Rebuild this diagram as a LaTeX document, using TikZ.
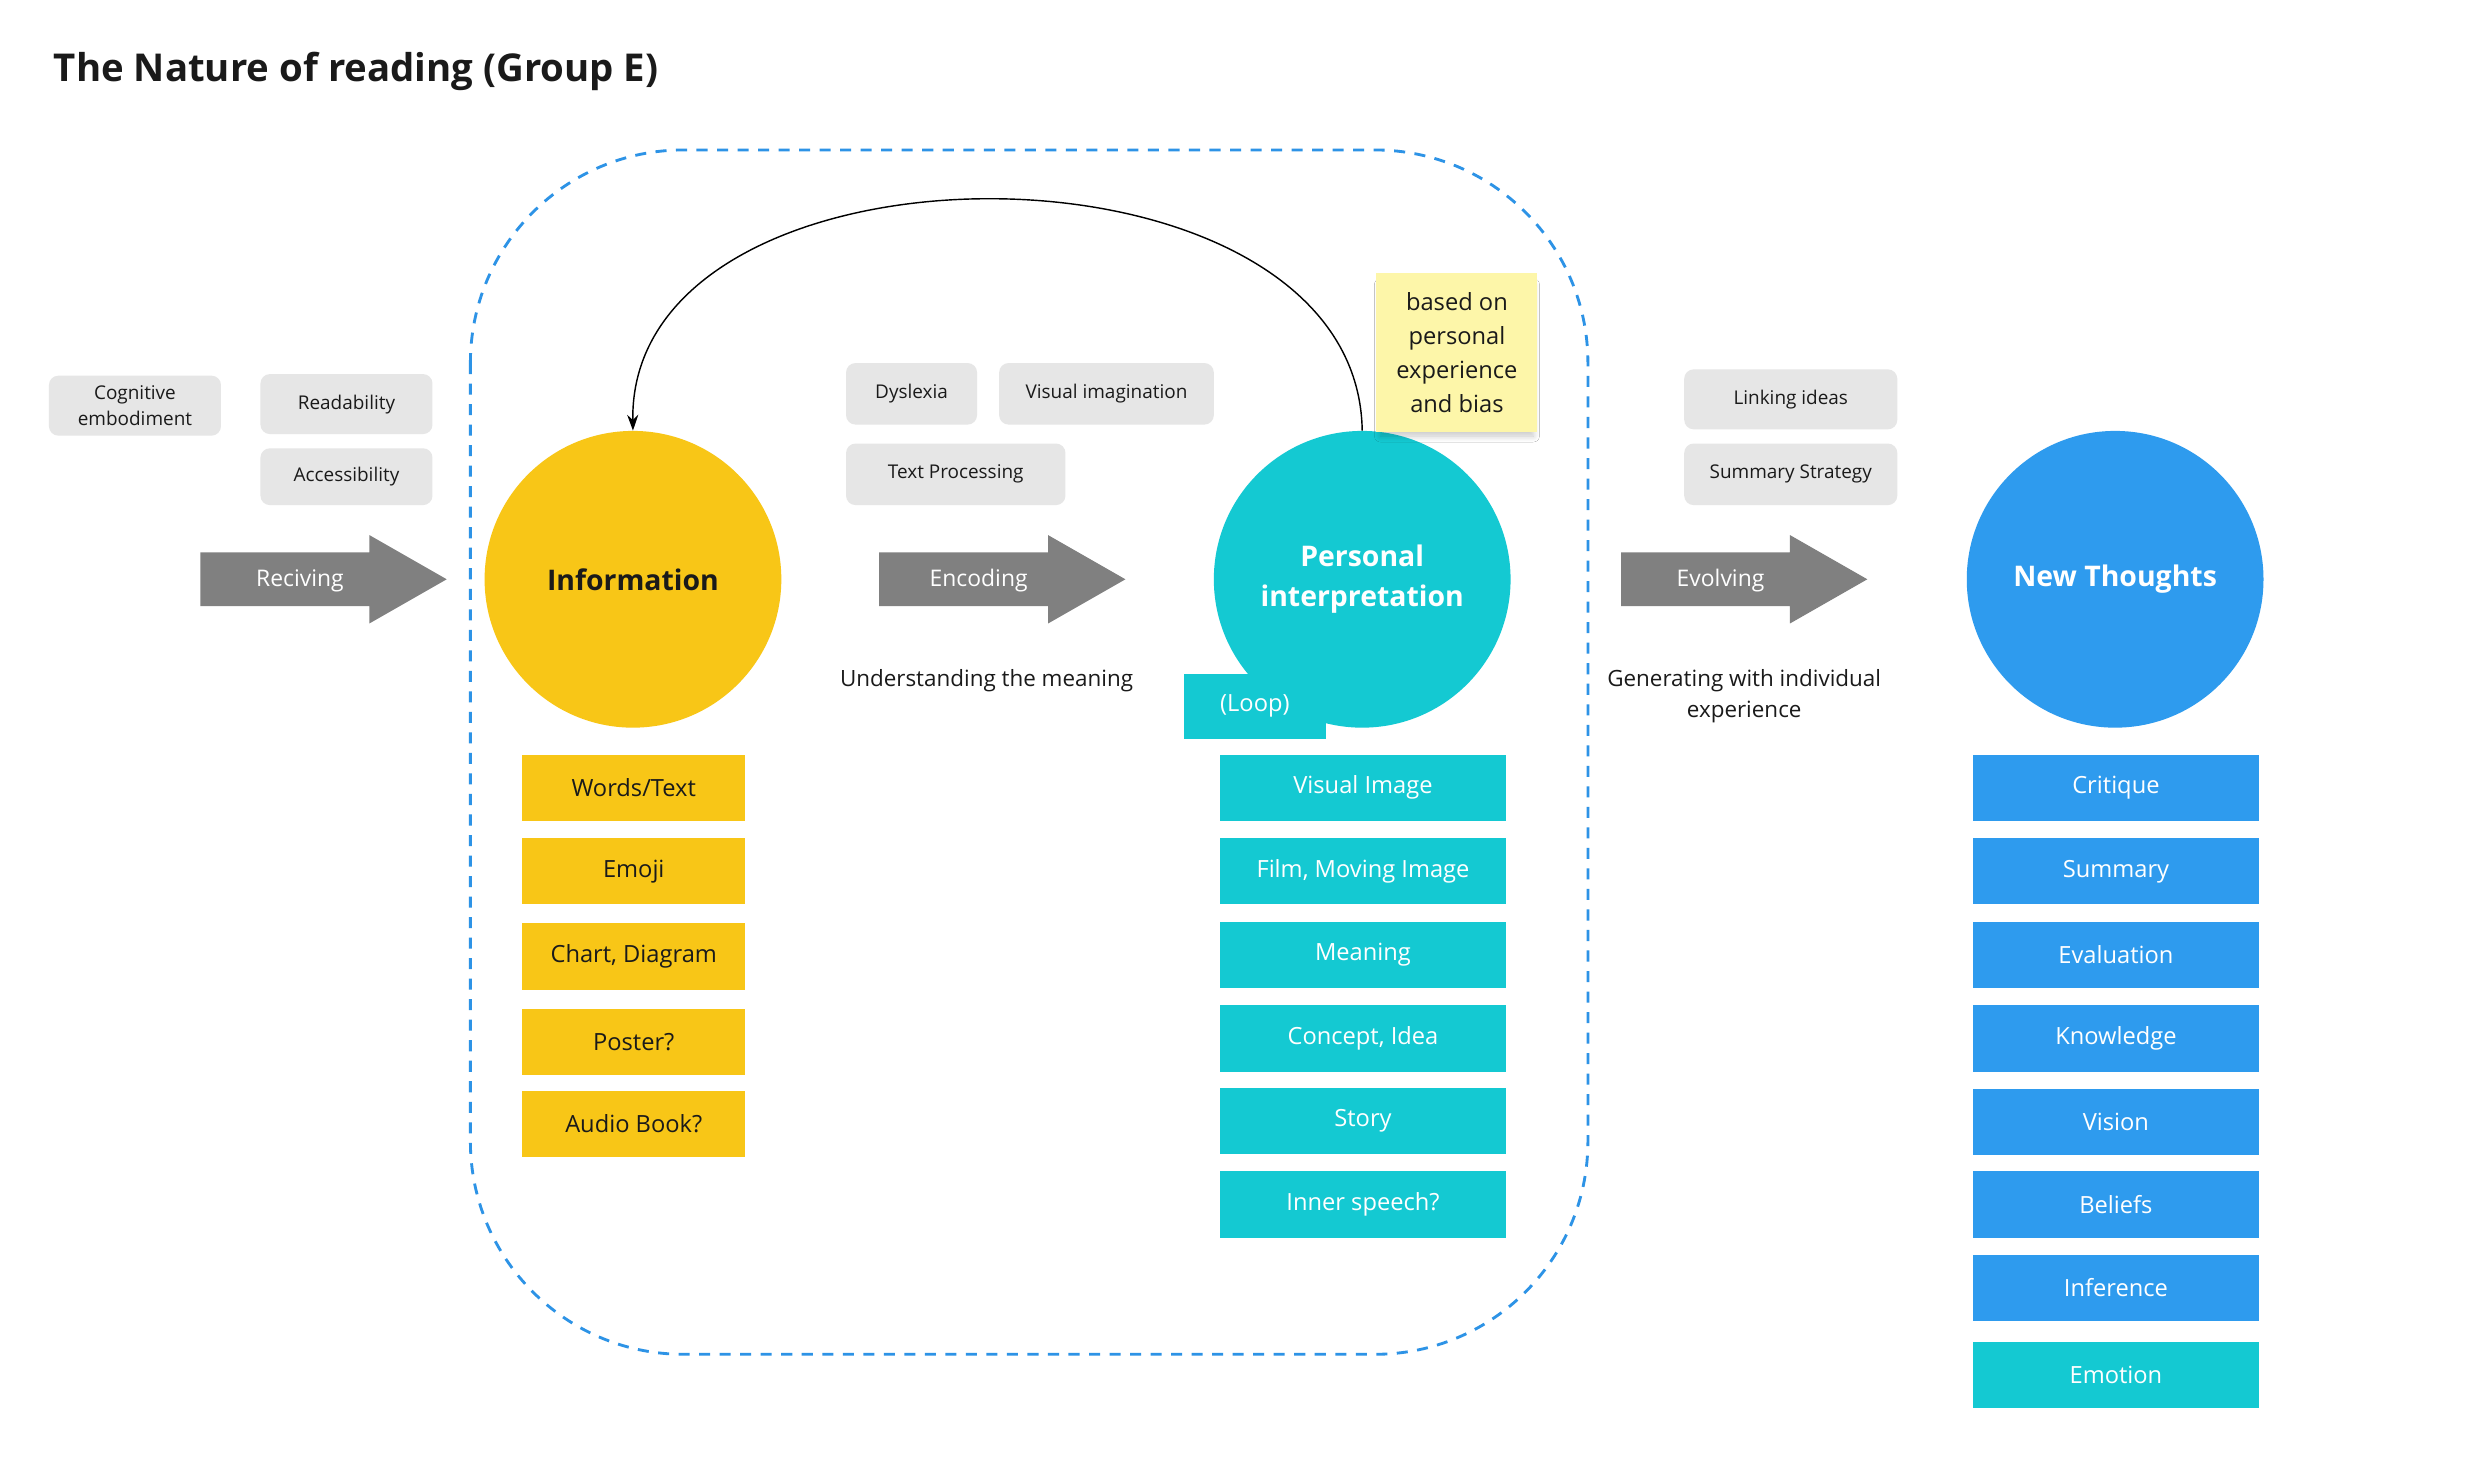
\documentclass[tikz,border=0pt]{standalone}
\usepackage{fontspec}
\setmainfont{Open Sans}
\usetikzlibrary{shadows.blur,arrows.meta}
\definecolor{cyel}{HTML}{F8C617}
\definecolor{cteal}{HTML}{14C9D2}
\definecolor{cblue}{HTML}{2E9BEE}
\definecolor{cgrey}{HTML}{808080}
\definecolor{cchip}{HTML}{E6E6E6}
\definecolor{csticky}{HTML}{FDF6A9}
\definecolor{cdash}{HTML}{2D93E6}
\definecolor{ctext}{HTML}{1A1A1A}
\begin{document}
\begin{tikzpicture}[x=1pt,y=-1pt,
  chip/.style={fill=cchip, rounded corners=6pt, minimum height=38pt, inner sep=0pt, align=center,
    font=\fontsize{12}{16}\selectfont, text=ctext},
  bigarrow/.style={fill=cgrey},
  arrowlabel/.style={text=white, font=\fontsize{14.5}{18}\selectfont},
  bigcircle/.style={circle, minimum size=188pt, inner sep=0pt, align=center,
    font=\fontsize{18}{25}\selectfont\bfseries},
  listbox/.style={minimum height=42pt, inner sep=0pt, font=\fontsize{15}{18}\selectfont},
  ylist/.style={listbox, fill=cyel, minimum width=141pt, text=ctext},
  tlist/.style={listbox, fill=cteal, minimum width=181pt, text=white},
  blist/.style={listbox, fill=cblue, minimum width=181pt, text=white},
  caption/.style={align=center, font=\fontsize{14.2}{20}\selectfont, text=ctext},
]
\fill[white] (0,0) rectangle (1568,936);
\useasboundingbox (0,0) rectangle (1568,936);

% title
\node[anchor=west, inner sep=0pt, font=\fontsize{24.3}{29}\selectfont\bfseries, text=ctext] (title) at (34,45.5) {The Nature of reading (Group E)};

% dashed group
\draw[cdash, line width=1.8pt, dash pattern=on 7pt off 6pt, rounded corners=135pt] (298,95) rectangle (1006,858);

% grey chips
\node[chip, minimum width=109pt] (cog) at (85.5,257) {Cognitive\\embodiment};
\node[chip, minimum width=109pt] (read) at (219.5,256) {Readability};
\node[chip, minimum width=109pt, minimum height=36pt] (acc) at (219.5,302) {Accessibility};
\node[chip, minimum width=83pt, minimum height=39pt] (dys) at (577.5,249.5) {Dyslexia};
\node[chip, minimum width=136pt, minimum height=39pt] (vis) at (701,249.5) {Visual imagination};
\node[chip, minimum width=139pt, minimum height=39pt] (tp) at (605.5,300.5) {Text Processing};
\node[chip, minimum width=135pt] (link) at (1134.5,253) {Linking ideas};
\node[chip, minimum width=135pt, minimum height=39pt] (sum) at (1134.5,300.5) {Summary Strategy};

% big arrows
\foreach \x in {127,557,1027}{
  \fill[bigarrow] (\x,350) -- (\x+107,350) -- (\x+107,339) -- (\x+156,367) -- (\x+107,395) -- (\x+107,384) -- (\x,384) -- cycle;
}
\node[arrowlabel] (reciving) at (190,368) {Reciving};
\node[arrowlabel] (encoding) at (620,368) {Encoding};
\node[arrowlabel] (evolving) at (1090,368) {Evolving};

% circles
\node[bigcircle, fill=cyel, text=ctext] (info) at (401,367) {Information};
\node[bigcircle, fill=cteal, text=white] (pi) at (863,367) {Personal\\interpretation};
\node[bigcircle, fill=cblue, text=white] (nt) at (1340,367) {\raisebox{-1.5pt}{New Thoughts}};

% loop tag
\node[fill=cteal, minimum width=90pt, minimum height=41pt, inner sep=0pt, text=white,
  font=\fontsize{15}{18}\selectfont] (loop) at (795,447.5) {(Loop)};

% loop connector
\draw[-{Stealth[length=10pt,width=7pt]}, line width=0.9pt, black] (pi.north) .. controls (860,78) and (398,78) .. (info.north);

% sticky note
\node[fill=csticky, minimum width=102pt, minimum height=101pt, inner sep=0pt, align=center,
  font=\fontsize{15}{21.5}\selectfont, text=ctext,
  blur shadow={shadow xshift=0pt, shadow yshift=-5pt, shadow scale=0.95, shadow blur steps=8, shadow blur radius=4pt, shadow opacity=22}] (sticky) at (923,223.5)
  {based on\\personal\\experience\\and bias};

% captions
\node[caption] (und) at (625,431) {Understanding the meaning};
\node[caption] (gen) at (1105,441) {Generating with individual\\experience};

% yellow list
\node[ylist] (y1) at (401.5,499) {Words/Text};
\node[ylist] (y2) at (401.5,552) {Emoji};
\node[ylist] (y3) at (401.5,606) {Chart, Diagram};
\node[ylist] (y4) at (401.5,660) {Poster?};
\node[ylist] (y5) at (401.5,712) {Audio Book?};

% teal list
\node[tlist] (t1) at (863.5,499) {Visual Image};
\node[tlist] (t2) at (863.5,552) {Film, Moving Image};
\node[tlist] (t3) at (863.5,605) {Meaning};
\node[tlist] (t4) at (863.5,658) {Concept, Idea};
\node[tlist] (t5) at (863.5,710) {Story};
\node[tlist] (t6) at (863.5,763) {Inner speech?};

% blue list
\node[blist] (b1) at (1340.5,499) {Critique};
\node[blist] (b2) at (1340.5,552) {Summary};
\node[blist] (b3) at (1340.5,605) {Evaluation};
\node[blist] (b4) at (1340.5,658) {Knowledge};
\node[blist] (b5) at (1340.5,711) {Vision};
\node[blist] (b6) at (1340.5,763) {Beliefs};
\node[blist] (b7) at (1340.5,816) {Inference};
\node[tlist] (b8) at (1340.5,871) {Emotion};
\end{tikzpicture}
\end{document}
